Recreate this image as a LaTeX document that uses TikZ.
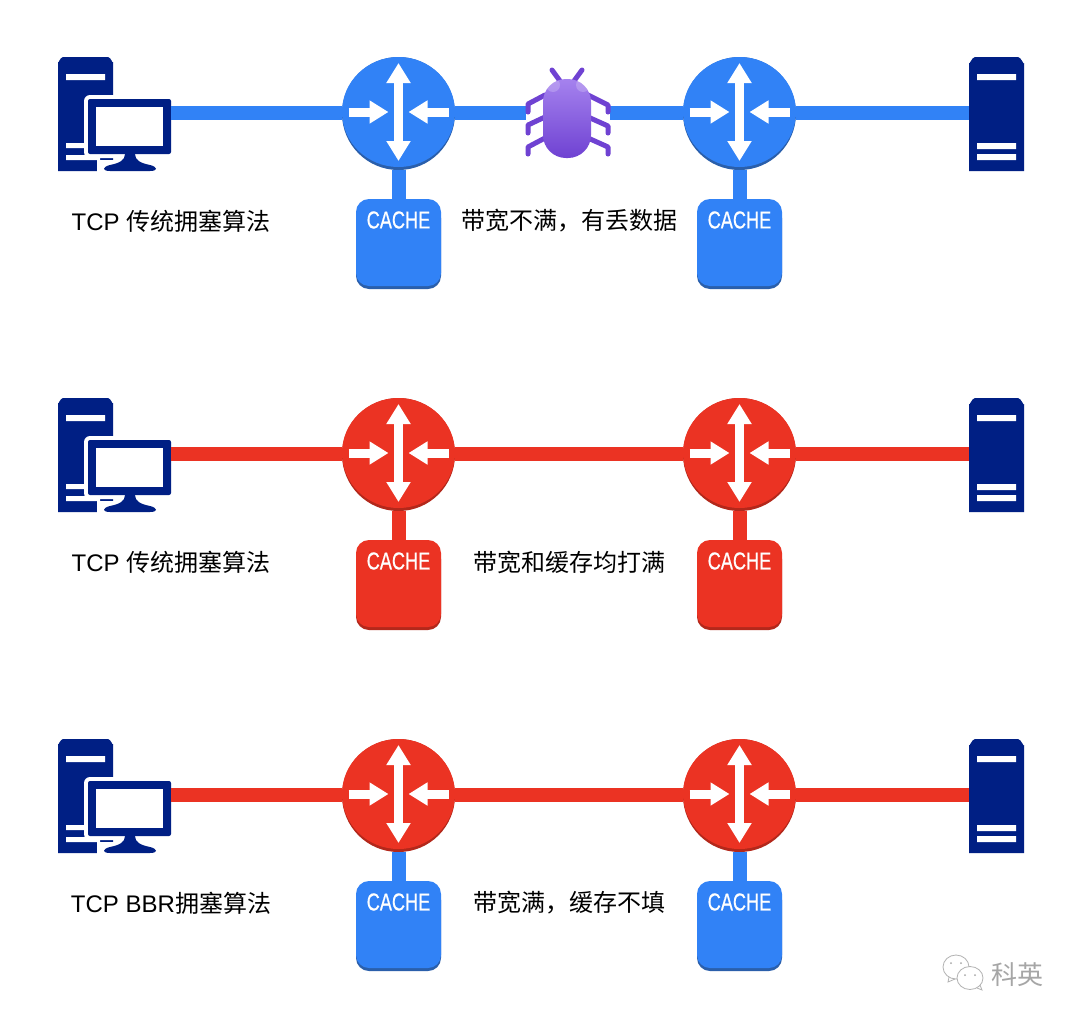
\documentclass[tikz,border=0pt]{standalone}
\usepackage{fontspec}
\setmainfont{Liberation Sans}
\newfontfamily\cjk{Noto Sans CJK SC}
\newfontfamily\cachefont[FakeStretch=0.74, FakeBold=0.5]{Liberation Sans}
\usetikzlibrary{arrows.meta, calc}
\definecolor{cblue}{HTML}{3182F6}
\definecolor{cbluedk}{HTML}{2A5FAB}
\definecolor{cred}{HTML}{EB3323}
\definecolor{creddk}{HTML}{B3281B}
\definecolor{cnavy}{HTML}{001F84}
\definecolor{cbug}{HTML}{6F42D2}
\definecolor{cbugtop}{HTML}{A582EE}
\tikzset{
  router/.style={circle, minimum size=113pt, inner sep=0pt, outer sep=0pt},
  cachebox/.style={fill=#1, rounded corners=13pt, minimum width=85pt, minimum height=87pt, inner sep=0pt},
  slot/.style={inner sep=0pt, outer sep=0pt, minimum width=#1},
  link/.style={draw=#1, line width=14pt},
  label/.style={font=\fontsize{24}{28}\selectfont, inner sep=0pt, text=black},
  cachetext/.style={font=\cachefont\fontsize{24.5}{28}\selectfont, text=white, inner sep=0pt},
  bigarrow/.style={draw=white, line width=9pt},
  leg/.style={draw=cbug, line width=5pt, line cap=round, line join=round},
}
\begin{document}
\begin{tikzpicture}[x=1pt, y=-1pt]
  \newcommand{\routericon}[3]{
    \node[router] (#1) at (#2,113) {};
    \begin{scope}[shift={(#2,113)}]
      \fill[#3dk] (0,.5) circle (56.5);
      \fill[#3] (0,-1) ellipse (56.5 and 55);
      \draw[bigarrow, {Triangle[length=20pt,width=23pt]}-{Triangle[length=20pt,width=23pt]}] (0,-50) -- (0,48);
      \draw[bigarrow, -{Triangle[length=19pt,width=22pt]}] (-50,-1) -- (-10,-1);
      \draw[bigarrow, -{Triangle[length=19pt,width=22pt]}] (50,-1) -- (10,-1);
    \end{scope}
  }
  \newcommand{\cacheicon}[3]{
    \fill[#3dk, rounded corners=13pt] (#2-42.5,205) rectangle (#2+42.5,289);
    \node[cachebox=#3] (#1) at (#2,242.5) {};
    \node[cachetext] (#1t) at (#2,220) {CACHE};
  }
  \newcommand{\pcicon}[1]{
    \node[slot=113pt, minimum height=114pt] (#1) at (114.5,113) {};
    \fill[cnavy] (58,171) -- (58,62) to[out=-90, in=180] (63,57) -- (108,57) to[out=0, in=-90] (113,62) -- (113,171) -- cycle;
    \fill[white] (66,74) rectangle (105,80) (66,143) rectangle (84,148) (66,155) rectangle (100,160);
    \fill[white, rounded corners=6pt] (84,95) rectangle (175,158);
    \fill[white] (97,160) rectangle (115,172);
    \fill[cnavy, rounded corners=2pt] (88,99) rectangle (171,154);
    \fill[white] (96,107) rectangle (163,146);
    \fill[cnavy] (125,154) -- (135,154) .. controls (135,160) and (140,163) .. (150,165) .. controls (158,167) and (158,171) .. (150,171) -- (110,171) .. controls (102,171) and (102,167) .. (110,165) .. controls (120,163) and (125,160) .. (125,154) -- cycle;
  }
  \newcommand{\servericon}[1]{
    \node[slot=55pt, minimum height=114pt] (#1) at (996.5,113) {};
    \fill[cnavy] (969,171) -- (969,63) to[out=-90, in=180] (975,57) -- (1018,57) to[out=0, in=-90] (1024,63) -- (1024,171) -- cycle;
    \fill[white] (977,74) rectangle (1016,80) (977,143) rectangle (1016,149) (977,154) rectangle (1016,160);
  }
  \newcommand{\netrow}[7]{
    \begin{scope}[shift={(0,#2)}]
      \pcicon{pc#1}
      \routericon{ra#1}{398.5}{#3}
      \routericon{rb#1}{739.5}{#3}
      \servericon{sv#1}
      \cacheicon{ca#1}{398.5}{#4}
      \cacheicon{cb#1}{739.5}{#4}
      \draw[link=#3] (pc#1) -- (ra#1);
      \draw[link=#3] (rb#1) -- (sv#1);
      \draw[link=#4] (ra#1) -- (ca#1);
      \draw[link=#4] (rb#1) -- (cb#1);
      \node[label] (tl#1) at (171,#6) {#5};
      \node[label] (tr#1) at (569,#6) {#7};
    \end{scope}
  }
  \useasboundingbox (0,0) rectangle (1080,1023);
  \fill[white] (0,0) rectangle (1080,1023);

  % row one
  \netrow{a}{0}{cblue}{cblue}{TCP {\cjk 传统拥塞算法}}{221}{\cjk 带宽不满，有丢数据}
  \node[slot=84pt, minimum height=90pt] (bug) at (568,113) {};
  \draw[link=cblue] (raa) -- (bug);
  \draw[link=cblue] (bug) -- (rba);
  \draw[leg] (552,70) -- (560,81) (582,70) -- (574,81);
  \draw[leg] (545,95) -- (528,104) -- (528,112) (545,117) -- (528,125) -- (528,133) (545,138) -- (528,147) -- (528,154);
  \draw[leg] (588,95) -- (608,105) -- (608,112) (588,117) -- (608,126) -- (608,133) (588,138) -- (608,147) -- (608,154);
  \begin{scope}
    \clip[rounded corners=23pt] (543,79) rectangle (591,158);
    \shade[top color=cbugtop, bottom color=cbug] (543,79) rectangle (591,158);
    \fill[white, opacity=.2] (553,85) circle (7) (583,85) circle (7);
  \end{scope}

  % row two
  \netrow{b}{341}{cred}{cred}{TCP {\cjk 传统拥塞算法}}{221}{\cjk 带宽和缓存均打满}
  \draw[link=cred] (rab) -- (rbb);

  % row three
  \netrow{c}{682}{cred}{cblue}{TCP BBR{\cjk 拥塞算法}}{221}{\cjk 带宽满，缓存不填}
  \draw[link=cred] (rac) -- (rbc);

  % watermark
  \node[font=\cjk\fontsize{26}{28}\selectfont, text=black!35, inner sep=0pt] (wm) at (1017,975) {科英};
  \draw[black!30, fill=white, line width=.8pt] (956,967) ellipse (13 and 12);
  \draw[black!30, line width=.8pt] (949,977) -- (948,982) -- (955,979);
  \draw[black!30, fill=white, line width=.8pt] (970,978) ellipse (13 and 11.5);
  \draw[black!30, line width=.8pt] (977,988) -- (982,990) -- (980,985);
  \fill[black!35] (951,963) circle (1) (961,963) circle (1) (965,975) circle (1) (975,975) circle (1);
\end{tikzpicture}
\end{document}
